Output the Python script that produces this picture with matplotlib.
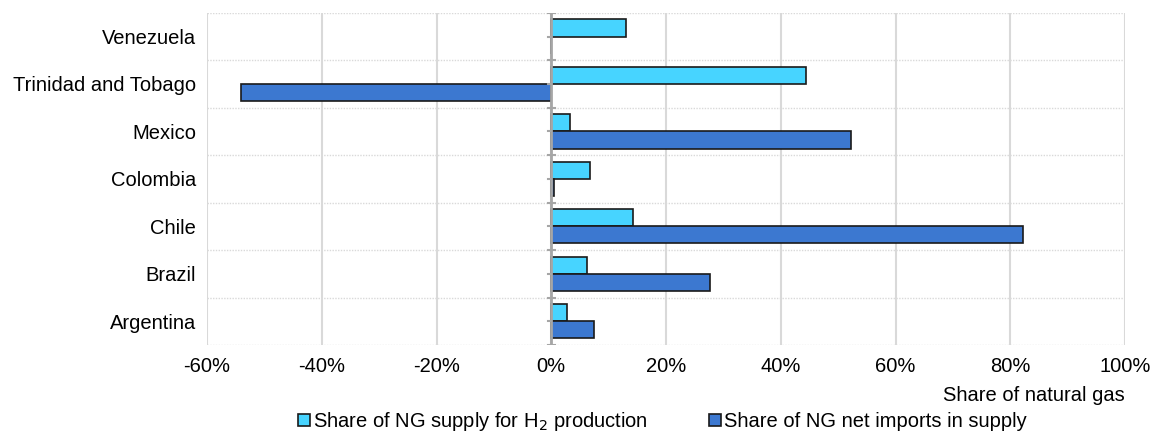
import numpy as np
import matplotlib.pyplot as plt
from matplotlib.ticker import FuncFormatter

plt.rcParams["font.family"] = ["Liberation Sans", "DejaVu Sans"]

# dados (fração do gás natural)
countries = ["Argentina", "Brazil", "Chile", "Colombia", "Mexico",
             "Trinidad and Tobago", "Venezuela"]
h2_share = [0.028, 0.063, 0.143, 0.068, 0.033, 0.444, 0.131]
imports_share = [0.075, 0.277, 0.822, 0.004, 0.523, -0.54, 0.0]

label_h2 = "Share of NG supply for H$_2$ production"
label_imp = "Share of NG net imports in supply"

c_h2 = "#47D4FF"
c_imp = "#3C78D0"
fs = 14.5

fig = plt.figure(figsize=(11.52, 4.32), dpi=100)
ax = fig.add_axes([0.1797, 0.2014, 0.7969, 0.769])

y = np.arange(len(countries))
h = 0.36
ax.barh(y + h / 2, h2_share, height=h, color=c_h2, edgecolor="#1a1a1a",
        linewidth=1.2, label=label_h2, zorder=3)
ax.barh(y - h / 2, imports_share, height=h, color=c_imp, edgecolor="#1a1a1a",
        linewidth=1.2, label=label_imp, zorder=3)

ax.set_xlim(-0.6, 1.0)
ax.set_ylim(-0.5, len(countries) - 0.5)
ax.set_xticks(np.arange(-0.6, 1.01, 0.2))
ax.xaxis.set_major_formatter(FuncFormatter(lambda v, p: f"{v*100:.0f}%"))
ax.set_yticks(y)
ax.set_yticklabels(countries)
ax.tick_params(axis="x", length=0, labelsize=fs, pad=9)
ax.tick_params(axis="y", length=0, labelsize=fs, pad=8)

# grades
ax.grid(axis="x", color="#D9D9D9", linewidth=1.5, zorder=0)
for b in np.arange(-0.5, len(countries), 1.0):
    ax.axhline(b, color="#D9D9D9", linestyle=(0, (1, 1)), linewidth=1.0, zorder=0)

for s in ax.spines.values():
    s.set_visible(False)

# eixo vertical no zero com marcas
ax.axvline(0, color="#A6A6A6", linewidth=2, zorder=4)
for b in np.arange(-0.5, len(countries), 1.0):
    ax.plot([-0.006, 0.006], [b, b], color="#A6A6A6", linewidth=1.5, zorder=4)
for c in y:
    ax.plot([-0.006, 0], [c, c], color="#A6A6A6", linewidth=1.5, zorder=4)

fig.text(0.9766, 0.0856, "Share of natural gas", ha="right", va="center", fontsize=fs)

fig.legend(loc="center", bbox_to_anchor=(0.575, 0.024), ncol=2, frameon=False,
           fontsize=fs, handlelength=0.6, handleheight=0.6, handletextpad=0.15,
           columnspacing=3.0, borderpad=0, borderaxespad=0)

fig.savefig("out.png", dpi=100)
